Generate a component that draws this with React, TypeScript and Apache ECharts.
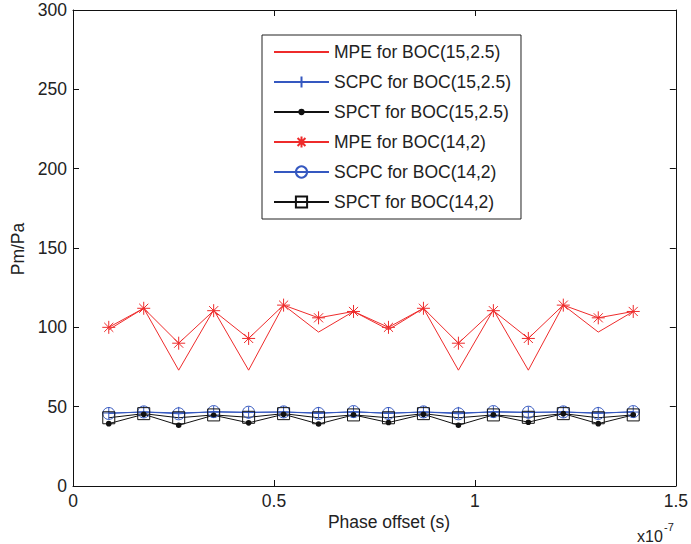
import React, { useEffect, useRef } from "react";
import * as echarts from "echarts";

// Phase offset, in units of 1e-7 s
const xValues = [0.089, 0.176, 0.263, 0.35, 0.437, 0.524, 0.611, 0.698, 0.785, 0.872, 0.959, 1.046, 1.133, 1.22, 1.307, 1.394];

const mpe15 = [98.5, 112, 73, 111, 73, 114, 97, 110, 98.5, 112, 73, 111, 73, 114, 97, 110];
const scpc15 = [46, 46.6, 46.1, 46.6, 46.3, 46.6, 46.1, 46.6, 46, 46.6, 46.1, 46.6, 46.3, 46.6, 46.1, 46.6];
const spct15 = [39.3, 45.2, 38.3, 44.6, 39.8, 45.2, 39.1, 44.8, 40, 45.2, 38.3, 44.8, 40.2, 45.6, 39.3, 44.8];
const mpe14 = [100, 112, 90, 110.5, 93, 114, 106, 110, 100, 112, 90, 110.5, 93, 114, 106, 110];
const scpc14 = [45.7, 46.7, 45.5, 46.9, 46.5, 46.7, 45.7, 46.9, 45.7, 46.7, 45.5, 46.9, 46.5, 46.7, 45.7, 46.9];
const spct14 = [43, 45.6, 43, 44.8, 43.3, 45.6, 43, 44.8, 43, 45.6, 43, 44.8, 43.3, 45.6, 43, 44.8];

const seriesNames = [
  "MPE for BOC(15,2.5)",
  "SCPC for BOC(15,2.5)",
  "SPCT for BOC(15,2.5)",
  "MPE for BOC(14,2)",
  "SCPC for BOC(14,2)",
  "SPCT for BOC(14,2)",
];

const xTicks = { min: 0, max: 1.5, interval: 0.5 };
const yTicks = { min: 0, max: 300, interval: 50 };

const RED = "#ee2b2b";
const BLUE = "#3558c0";
const BLACK = "#111111";
const TEXT = "#222222";
const FONT = "'Liberation Sans', Arial, Helvetica, sans-serif";
const FS = 17.5;

const PLUS = "path://M5,0L5,10M0,5L10,5";
const STAR = "path://M5,0L5,10M0,5L10,5M1.5,1.5L8.5,8.5M1.5,8.5L8.5,1.5";
// small dot inside a 10x10 frame (corner points only enlarge the bounding box)
const DOT = "path://M0,0L0.01,0M10,10L9.99,10M7.8,5A2.8,2.8 0 1 1 2.2,5A2.8,2.8 0 1 1 7.8,5Z";

function pairs(ys: number[]) {
  return ys.map((y, i) => [xValues[i], y]);
}

export default function App() {
  const ref = useRef<HTMLDivElement>(null);
  useEffect(() => {
    if (!ref.current) return;
    const chart = echarts.init(ref.current, undefined, { renderer: "svg" });

    const axisCommon = {
      type: "value" as const,
      axisLine: { show: true, onZero: false, lineStyle: { color: BLACK, width: 1 } },
      axisTick: { show: true, inside: true, length: 6, lineStyle: { color: BLACK, width: 1 } },
      splitLine: { show: false },
    };
    const labelStyle = { color: TEXT, fontSize: FS, fontFamily: FONT };

    const lineSeries = (name: string, data: number[], color: string, extra: any) => ({
      name,
      type: "line",
      data: pairs(data),
      lineStyle: { color, width: 1 },
      emphasis: { disabled: true },
      ...extra,
    });

    chart.setOption({
      animation: false,
      backgroundColor: "#ffffff",
      textStyle: { fontFamily: FONT },
      grid: { left: 73, right: 14, top: 10, bottom: 58, containLabel: false },
      xAxis: [
        {
          ...axisCommon,
          position: "bottom",
          ...xTicks,
          axisLabel: { ...labelStyle, margin: 6 },
        },
        {
          ...axisCommon,
          position: "top",
          ...xTicks,
          axisLabel: { show: false },
        },
      ],
      yAxis: [
        {
          ...axisCommon,
          position: "left",
          ...yTicks,
          axisLabel: { ...labelStyle, margin: 6 },
        },
        {
          ...axisCommon,
          position: "right",
          ...yTicks,
          axisLabel: { show: false },
        },
      ],
      legend: {
        orient: "vertical",
        left: 262,
        top: 35,
        padding: [8, 10, 8, 11],
        backgroundColor: "#ffffff",
        borderColor: "#222222",
        borderWidth: 1,
        borderRadius: 0,
        itemWidth: 55,
        itemHeight: 14,
        itemGap: 12,
        textStyle: { color: TEXT, fontSize: FS, fontFamily: FONT },
        data: seriesNames,
      },
      series: [
        lineSeries(seriesNames[0], mpe15, RED, {
          symbol: "circle",
          showSymbol: false,
          itemStyle: { color: "transparent" },
        }),
        lineSeries(seriesNames[1], scpc15, BLUE, {
          symbol: PLUS,
          symbolSize: 12,
          itemStyle: { color: BLUE, borderColor: BLUE, borderWidth: 1 },
        }),
        lineSeries(seriesNames[2], spct15, BLACK, {
          symbol: DOT,
          symbolSize: 10,
          itemStyle: { color: BLACK },
        }),
        lineSeries(seriesNames[3], mpe14, RED, {
          symbol: STAR,
          symbolSize: 13,
          itemStyle: { color: RED, borderColor: RED, borderWidth: 1 },
        }),
        lineSeries(seriesNames[4], scpc14, BLUE, {
          symbol: "circle",
          symbolSize: 12,
          itemStyle: { color: "transparent", borderColor: BLUE, borderWidth: 1 },
        }),
        lineSeries(seriesNames[5], spct14, BLACK, {
          symbol: "rect",
          symbolSize: 12,
          itemStyle: { color: "transparent", borderColor: BLACK, borderWidth: 1 },
        }),
      ],
      graphic: [
        {
          type: "text",
          x: 18,
          y: 249,
          rotation: Math.PI / 2,
          style: { text: "Pm/Pa", fontSize: FS, fontFamily: FONT, fill: TEXT, align: "center", verticalAlign: "middle" },
        },
        {
          type: "text",
          x: 389,
          y: 522,
          style: { text: "Phase offset (s)", fontSize: FS, fontFamily: FONT, fill: TEXT, align: "center", verticalAlign: "middle" },
        },
        {
          type: "text",
          x: 637,
          y: 536,
          style: { text: "x10", fontSize: 16, fontFamily: FONT, fill: TEXT, align: "left", verticalAlign: "middle" },
        },
        {
          type: "text",
          x: 664,
          y: 527,
          style: { text: "-7", fontSize: 11, fontFamily: FONT, fill: TEXT, align: "left", verticalAlign: "middle" },
        },
      ],
    });

    return () => {
      chart.dispose();
    };
  }, []);

  return (
    <div
      ref={ref}
      style={{ position: "fixed", left: 0, top: 0, width: 691, height: 544, background: "#fff" }}
    />
  );
}
